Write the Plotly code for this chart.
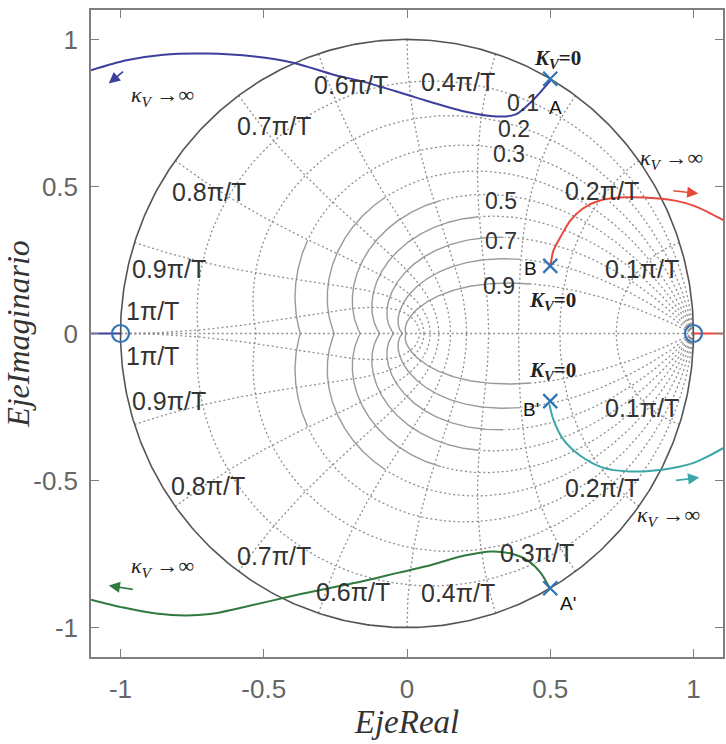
import numpy as np
import plotly.graph_objects as go

# ---------------- data ----------------
# z-plane grid (MATLAB zgrid style)
zeta_values = [0.1, 0.2, 0.3, 0.4, 0.5, 0.6, 0.7, 0.8, 0.9]
wn_values = [0.1, 0.2, 0.3, 0.4, 0.5, 0.6, 0.7, 0.8, 0.9, 1.0]  # multiples of pi/T

# root-locus branches
blue_x = [0.501, 0.439, 0.380, 0.312, 0.201, 0.029, -0.143, -0.256, -0.394, -0.532, -0.704, -0.850, -0.979, -1.103]
blue_y = [0.861, 0.793, 0.745, 0.738, 0.755, 0.803, 0.854, 0.880, 0.920, 0.942, 0.952, 0.948, 0.929, 0.895]

green_x = [0.501, 0.466, 0.422, 0.363, 0.294, 0.201, 0.088, -0.029, -0.143, -0.394, -0.590, -0.687, -0.773, -0.876, -0.990, -1.103]
green_y = [-0.871, -0.813, -0.772, -0.748, -0.741, -0.755, -0.786, -0.813, -0.840, -0.891, -0.935, -0.954, -0.959, -0.952, -0.932, -0.905]

red_x = [0.501, 0.511, 0.535, 0.570, 0.614, 0.673, 0.759, 0.879, 0.940, 1.000, 1.050, 1.107]
red_y = [0.231, 0.282, 0.327, 0.384, 0.425, 0.452, 0.463, 0.459, 0.451, 0.435, 0.413, 0.384]

cyan_x = [0.497, 0.511, 0.546, 0.604, 0.683, 0.776, 0.890, 0.950, 1.003, 1.050, 1.107]
cyan_y = [-0.241, -0.293, -0.361, -0.415, -0.456, -0.469, -0.463, -0.453, -0.439, -0.418, -0.388]

real_blue_x = [-1.103, -1.0]
real_red_x = [1.0, 1.107]

poles_x = [0.5, 0.5, 0.5, 0.5]
poles_y = [0.866, -0.866, 0.23, -0.23]
zeros_x = [-1.0, 1.0]
zeros_y = [0.0, 0.0]

x_ticks = [-1, -0.5, 0, 0.5, 1]
x_ticktext = ["-1", "-0.5", "0", "0.5", "1"]
y_ticks = [-1, -0.5, 0, 0.5, 1]
y_ticktext = ["-1", "-0.5", "0", "0.5", "1"]

zeta_label_text = ["0.1", "0.2", "0.3", "0.5", "0.7", "0.9"]
wn_label_text = ["0.1\u03c0/T", "0.2\u03c0/T", "0.3\u03c0/T", "0.4\u03c0/T", "0.6\u03c0/T",
                 "0.7\u03c0/T", "0.8\u03c0/T", "0.9\u03c0/T", "1\u03c0/T"]

# ---------------- figure ----------------
fig = go.Figure()
GRID = "#8f8f8f"
DOT = "2px,2.6px"

def add_line(x, y, color, width=1.2, dash="solid", shape="linear"):
    line = dict(color=color, width=width, dash=dash, shape=shape)
    if shape == "spline":
        line["smoothing"] = 0.8
    fig.add_trace(go.Scatter(x=x, y=y, mode="lines", line=line,
                             hoverinfo="skip", showlegend=False))

# constant damping curves (log spirals), solid-looking near origin, dotted elsewhere
for zt in zeta_values:
    th = np.linspace(0, np.pi, 400)
    r = np.exp(-zt * th / np.sqrt(1 - zt ** 2))
    for sgn in (1, -1):
        x = r * np.cos(th)
        y = sgn * r * np.sin(th)
        dense = r < 0.47
        keep_d = ~dense | np.roll(~dense, -1)
        add_line(np.where(keep_d, x, np.nan), np.where(keep_d, y, np.nan), GRID, 1.3, DOT)
        keep_s = dense | np.roll(dense, 1)
        add_line(np.where(keep_s, x, np.nan), np.where(keep_s, y, np.nan), "#9a9a9a", 1.4, "solid")

# constant natural-frequency curves
for w in wn_values:
    zz = np.linspace(0, 1, 300)
    wT = w * np.pi
    r = np.exp(-zz * wT)
    ang = wT * np.sqrt(1 - zz ** 2)
    for sgn in (1, -1):
        add_line(r * np.cos(ang), sgn * r * np.sin(ang), GRID, 1.3, DOT)

# real axis grid line
add_line([-1, 1], [0, 0], GRID, 1.3, DOT)

# unit circle
t = np.linspace(0, 2 * np.pi, 500)
add_line(np.cos(t), np.sin(t), "#555555", 1.6)

# root-locus branches
BLUE = "#3c3f9c"
GREEN = "#2f7a3c"
RED = "#e8483c"
CYAN = "#3aa6a8"
add_line(blue_x, blue_y, BLUE, 2, shape="spline")
add_line(green_x, green_y, GREEN, 2, shape="spline")
add_line(red_x, red_y, RED, 2, shape="spline")
add_line(cyan_x, cyan_y, CYAN, 2, shape="spline")
add_line(real_blue_x, [0, 0], BLUE, 2)
add_line(real_red_x, [0, 0], RED, 2)

# poles & zeros
MB = "#2f74b5"
fig.add_trace(go.Scatter(x=poles_x, y=poles_y, mode="markers",
                         marker=dict(symbol="x-thin", size=14, line=dict(color=MB, width=2.2)),
                         hoverinfo="skip", showlegend=False))
fig.add_trace(go.Scatter(x=zeros_x, y=zeros_y, mode="markers",
                         marker=dict(symbol="circle-open", size=17, color=MB, line=dict(color=MB, width=2.2)),
                         hoverinfo="skip", showlegend=False))

ann = []
LABF = dict(family="Liberation Sans, Arial", size=25, color="#333333")
ZLABF = dict(family="Liberation Sans, Arial", size=23, color="#333333")

zeta_pos = [(0.405, 0.785), (0.375, 0.697), (0.356, 0.612), (0.329, 0.452), (0.329, 0.313), (0.322, 0.163)]
for txt, (x, y) in zip(zeta_label_text, zeta_pos):
    ann.append(dict(x=x, y=y, text=txt, showarrow=False, font=ZLABF, xanchor="center", yanchor="middle"))

wn_pos_up = {"0.1\u03c0/T": (0.821, 0.221), "0.2\u03c0/T": (0.680, 0.486), "0.4\u03c0/T": (0.177, 0.854),
             "0.6\u03c0/T": (-0.194, 0.844), "0.7\u03c0/T": (-0.466, 0.704), "0.8\u03c0/T": (-0.690, 0.480),
             "0.9\u03c0/T": (-0.831, 0.218), "1\u03c0/T": (-0.890, 0.075)}
wn_pos_dn = {"0.1\u03c0/T": (0.821, -0.252), "0.2\u03c0/T": (0.680, -0.524), "0.3\u03c0/T": (0.453, -0.745),
             "0.4\u03c0/T": (0.177, -0.881), "0.6\u03c0/T": (-0.188, -0.878), "0.7\u03c0/T": (-0.466, -0.755),
             "0.8\u03c0/T": (-0.694, -0.517), "0.9\u03c0/T": (-0.831, -0.231), "1\u03c0/T": (-0.890, -0.075)}
for txt in wn_label_text:
    for d in (wn_pos_up, wn_pos_dn):
        if txt in d:
            x, y = d[txt]
            ann.append(dict(x=x, y=y, text=txt, showarrow=False, font=LABF, xanchor="center", yanchor="middle"))

# point labels
PTF = dict(family="Liberation Sans, Arial", size=19, color="#111111")
for txt, (x, y) in [("A", (0.520, 0.769)), ("B", (0.432, 0.221)), ("B'", (0.432, -0.259)), ("A'", (0.562, -0.918))]:
    ann.append(dict(x=x, y=y, text=txt, showarrow=False, font=PTF, xanchor="center", yanchor="middle"))

# gain labels
SERIF = "Liberation Serif, DejaVu Serif, serif"
kinf = "<i>\u03ba<sub>V</sub></i> \u2192\u221e"
k0 = "<b><i>K<sub>V</sub></i>=0</b>"
for (x, y) in [(-0.852, 0.806), (0.924, 0.592), (0.913, -0.619), (-0.852, -0.793)]:
    ann.append(dict(x=x, y=y, text=kinf, showarrow=False, font=dict(family=SERIF, size=22, color="#222222"),
                    xanchor="center", yanchor="middle"))
for (x, y) in [(0.525, 0.935), (0.508, 0.112), (0.508, -0.129)]:
    ann.append(dict(x=x, y=y, text=k0, showarrow=False, font=dict(family=SERIF, size=21, color="#222222"),
                    xanchor="center", yanchor="middle"))

# direction arrows
for (hx, hy, tx, ty, c) in [(-1.041, 0.850, -0.986, 0.895, BLUE), (1.017, 0.476, 0.924, 0.486, RED),
                            (1.020, -0.490, 0.934, -0.500, CYAN), (-1.041, -0.857, -0.952, -0.871, GREEN)]:
    ann.append(dict(x=hx, y=hy, ax=tx, ay=ty, xref="x", yref="y", axref="x", ayref="y", text="",
                    showarrow=True, arrowhead=2, arrowsize=1.4, arrowwidth=1.6, arrowcolor=c))

AX = dict(showgrid=False, zeroline=False, showline=True, mirror="ticks", linecolor="#7f7f7f", linewidth=1.5,
          ticks="inside", ticklen=8, tickcolor="#7f7f7f", tickwidth=1.3,
          tickfont=dict(family="Liberation Sans, Arial", size=26, color="#666666"))

fig.update_layout(
    width=726, height=744,
    margin=dict(l=84, r=1, t=10, b=87),
    paper_bgcolor="white", plot_bgcolor="white",
    annotations=ann,
    xaxis=dict(AX, range=[-1.103, 1.103], tickvals=x_ticks, ticktext=x_ticktext, ticklabelstandoff=8,
               title=dict(text="<i>EjeReal</i>", font=dict(family=SERIF, size=33, color="#333333"), standoff=4)),
    yaxis=dict(AX, range=[-1.1, 1.1], tickvals=y_ticks, ticktext=y_ticktext, ticklabelstandoff=6,
               title=dict(text="<i>EjeImaginario</i>", font=dict(family=SERIF, size=32, color="#333333"), standoff=10)),
)

fig.write_html("out.html")
